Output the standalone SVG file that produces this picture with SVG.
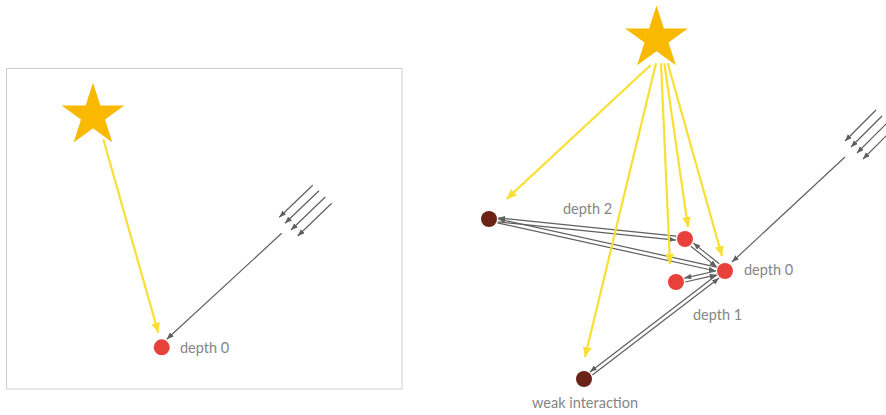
<svg xmlns="http://www.w3.org/2000/svg" width="886" height="415" viewBox="0 0 886 415">
<style>
.lbl{font-family:"Lato","Noto Sans",sans-serif;font-size:14.5px;fill:#858585}
.g{stroke:#5f5f5f;stroke-width:1.2;fill:none;marker-end:url(#ga)}
.gl{stroke:#5f5f5f;stroke-width:1.2;fill:none}
.y{stroke:#F9DF33;stroke-width:2.2;fill:none;marker-end:url(#ya)}
.red{fill:#E8403A}
.dark{fill:#6B2318}
.star{fill:#F9B900}
</style>
<defs>
<marker id="ga" markerUnits="userSpaceOnUse" markerWidth="8" markerHeight="6" refX="7" refY="2.75" orient="auto"><path d="M0,0 L7,2.75 L0,5.5 z" fill="#5f5f5f"/></marker>
<marker id="ya" markerUnits="userSpaceOnUse" markerWidth="11" markerHeight="10" refX="10" refY="4.5" orient="auto"><path d="M0,0 L10,4.5 L0,9 z" fill="#F9DF33"/></marker>
<polygon id="starShape" points="0,-33 7.41,-10.19 31.38,-10.2 11.98,3.89 19.4,26.7 0,12.6 -19.4,26.7 -11.98,3.89 -31.38,-10.2 -7.41,-10.19"/>
</defs>
<rect width="886" height="415" fill="#fff"/>
<g id="left-panel">
<rect x="6.5" y="68.5" width="395.5" height="320.5" fill="#fff" stroke="#cfcfcf" stroke-width="1"/>
</g>
<g id="connectors">
<line class="y" x1="103.3" y1="139.3" x2="158.3" y2="332.7"/>
<line class="g" x1="312.7" y1="185.3" x2="279.3" y2="217.3"/>
<line class="g" x1="319" y1="190.7" x2="285" y2="223.3"/>
<line class="g" x1="325.3" y1="197" x2="291" y2="230"/>
<line class="g" x1="331.7" y1="203.3" x2="297.7" y2="236"/>
<line class="g" x1="281.7" y1="233.3" x2="166.7" y2="339.3"/>
<line class="g" x1="876" y1="110" x2="845" y2="141"/>
<line class="g" x1="882" y1="116" x2="851" y2="147"/>
<line class="g" x1="888" y1="122" x2="857" y2="153"/>
<line class="g" x1="894" y1="128" x2="863" y2="159"/>
<line class="g" x1="845" y1="157" x2="732" y2="262"/>
<line class="g" x1="676.3" y1="236.1" x2="498.2" y2="217.9"/>
<line class="g" x1="497.8" y1="221.9" x2="675.9" y2="240.1"/>
<line class="g" x1="716.6" y1="267.1" x2="498.2" y2="219"/>
<line class="g" x1="497.4" y1="222.9" x2="715.8" y2="271"/>
<line class="g" x1="719.2" y1="263.8" x2="693.3" y2="243.1"/>
<line class="g" x1="690.8" y1="246.2" x2="716.7" y2="266.9"/>
<line class="g" x1="715.8" y1="271" x2="684.3" y2="278.1"/>
<line class="g" x1="685.2" y1="282" x2="716.7" y2="274.9"/>
<line class="g" x1="716.6" y1="274.9" x2="589.9" y2="371.9"/>
<line class="g" x1="592.4" y1="375.1" x2="719.1" y2="278.1"/>
<line class="y" x1="650.7" y1="65" x2="506.7" y2="199"/>
<line class="y" x1="656" y1="63.3" x2="585" y2="357"/>
<line class="y" x1="661" y1="63.3" x2="670" y2="264"/>
<line class="y" x1="664.3" y1="63.3" x2="688" y2="227"/>
<line class="y" x1="667.7" y1="63.3" x2="722" y2="256"/>
</g>
<g id="star-left"><use href="#starShape" class="star" transform="translate(93,115.7)"/></g>
<g id="star-right"><use href="#starShape" class="star" transform="translate(656.5,38.6)"/></g>
<g id="left-depth0"><circle class="red" cx="161.7" cy="347.3" r="8"/><text class="lbl" x="180" y="353">depth 0</text></g>
<g id="depth2-node"><circle class="dark" cx="489" cy="219" r="8"/><text class="lbl" x="563" y="214">depth 2</text></g>
<g id="red1"><circle class="red" cx="685" cy="239" r="8"/></g>
<g id="depth0-node"><circle class="red" cx="725" cy="271" r="8"/><text class="lbl" x="744" y="275">depth 0</text></g>
<g id="red3"><circle class="red" cx="676" cy="282" r="8"/></g>
<g id="depth1-label"><text class="lbl" x="693" y="320">depth 1</text></g>
<g id="weak-node"><circle class="dark" cx="584" cy="379" r="8"/><text class="lbl" x="532" y="408">weak interaction</text></g>
</svg>
